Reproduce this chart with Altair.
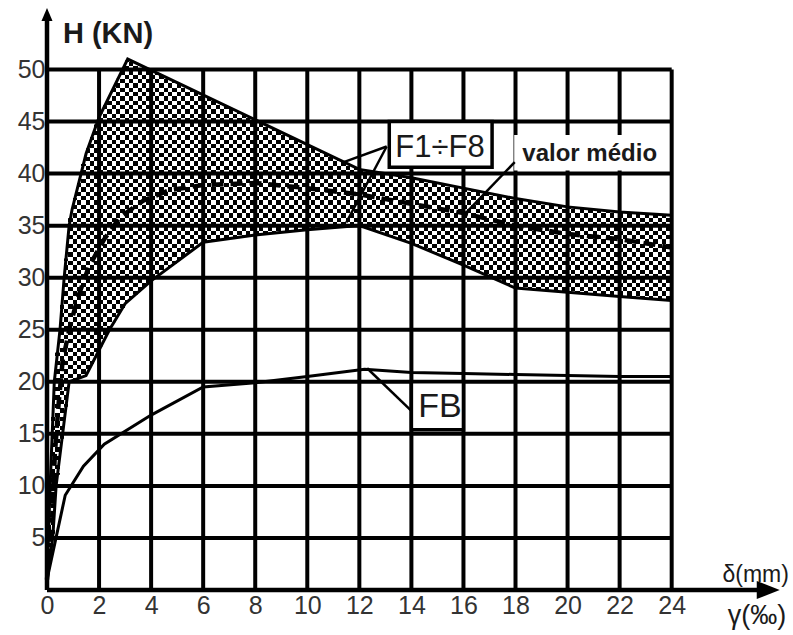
import altair as alt
import pandas as pd
import numpy as np

# ---- data ----
upper_x = [0, 0.12, 0.28, 0.5, 0.66, 0.85, 0.96, 1.5, 2.0, 3.1, 12.0, 14, 16, 18, 20, 22, 24]
upper_y = [1, 10, 20, 25, 30, 35, 36.5, 41.9, 45.4, 51.0, 40.4, 39.6, 38.6, 37.6, 36.8, 36.3, 36.0]

lower_x = [0, 0.22, 0.35, 0.6, 0.85, 1.5, 2.4, 3.0, 4.0, 6.0, 8.0, 10.0, 12.0, 14, 16, 18, 20, 22, 24]
lower_y = [1, 5, 10, 15, 20, 20.6, 25, 27.5, 29.7, 33.4, 34.1, 34.6, 35.0, 33.3, 31.2, 29.0, 28.6, 28.2, 27.8]

mean_x = [0, 0.2, 0.3, 0.45, 0.6, 0.9, 1.2, 1.6, 2.2, 2.8, 3.7, 4.7, 6, 8, 10, 12, 14, 16, 18, 20, 22, 24]
mean_y = [1, 7, 13, 18, 22, 25.5, 28.2, 31, 33.7, 35.8, 37.4, 38.4, 38.9, 39.1, 38.6, 38.0, 37.1, 36.2, 35.0, 34.2, 33.7, 32.9]

fb_x = [0, 0.7, 1.4, 2.2, 4, 6, 8, 10, 12.2, 14, 16, 18, 20, 22, 24]
fb_y = [1, 9.1, 11.9, 14.0, 16.8, 19.5, 19.9, 20.5, 21.2, 20.9, 20.8, 20.7, 20.6, 20.5, 20.5]

x_ticks = [0, 2, 4, 6, 8, 10, 12, 14, 16, 18, 20, 22, 24]
y_ticks = [5, 10, 15, 20, 25, 30, 35, 40, 45, 50]

# ---- layout ----
W, H = 734, 583
XMAX, YMAX = 28.2, 56
FONT = "Liberation Sans"
xs = alt.Scale(domain=[0, XMAX], nice=False, zero=False)
ys = alt.Scale(domain=[0, YMAX], nice=False, zero=False)

x_axis = alt.Axis(values=x_ticks, domain=False, ticks=False, grid=False, title=None,
                  labelFontSize=25, labelFont=FONT, labelColor="#333", labelPadding=3,
                  labelFlush=False, labelOverlap=False)
y_axis = alt.Axis(values=y_ticks, domain=False, ticks=False, grid=False, title=None,
                  labelFontSize=25, labelFont=FONT, labelColor="#333", labelPadding=2,
                  labelFlush=False, labelOverlap=False)

def X(f="x"):
    return alt.X(f"{f}:Q", scale=xs, axis=x_axis)

def Y(f="y"):
    return alt.Y(f"{f}:Q", scale=ys, axis=y_axis)

# ---- checkerboard texture of the F1÷F8 band (pixel-aligned cells of 4,4,5 px) ----
px_x, px_y = W / XMAX, H / YMAX
steps = [4, 4, 5]

def edges(limit_px):
    out, p, k = [0], 0, 0
    while p < limit_px:
        p += steps[k % 3]
        k += 1
        out.append(p)
    return out

ex = [e / px_x for e in edges(24 * px_x)]
ey = [e / px_y for e in edges(52 * px_y)]
rows = []
for i in range(len(ex) - 1):
    x0, x1 = ex[i], min(ex[i + 1], 24)
    if x0 >= 24:
        break
    xc = (x0 + x1) / 2
    lo = float(np.interp(xc, lower_x, lower_y))
    hi = float(np.interp(xc, upper_x, upper_y))
    for j in range(len(ey) - 1):
        if (i + j) % 2:
            continue
        y0, y1 = ey[j], ey[j + 1]
        if y1 > lo and y0 < hi:
            rows.append({"x": x0, "x2": x1, "y": max(y0, lo), "y2": min(y1, hi)})
checker = alt.Chart(pd.DataFrame(rows)).mark_rect(color="black", strokeWidth=0).encode(
    x=X(), x2="x2", y=Y(), y2="y2")

# ---- grid ----
grid_df = pd.DataFrame(
    [{"x": v, "x2": v, "y": 0, "y2": 50} for v in x_ticks[1:]] +
    [{"x": 0, "x2": 24, "y": v, "y2": v} for v in y_ticks])
grid = alt.Chart(grid_df).mark_rule(color="black", strokeWidth=4).encode(
    x=X(), x2="x2", y=Y(), y2="y2")

axes_df = pd.DataFrame([{"x": 0, "x2": 0, "y": 0, "y2": 55.0},
                        {"x": 0, "x2": 27.4, "y": 0, "y2": 0}])
axes = alt.Chart(axes_df).mark_rule(color="black", strokeWidth=4.5).encode(
    x=X(), x2="x2", y=Y(), y2="y2")

arrow_up = alt.Chart(pd.DataFrame({"x": [0], "y": [55.28]})).mark_point(
    shape="M-0.85,1L0,-1L0.85,1Z", filled=True, color="black", opacity=1, size=169
).encode(x=X(), y=Y())
arrow_right = alt.Chart(pd.DataFrame({"x": [27.71], "y": [0]})).mark_point(
    shape="M-1,-0.78L1,0L-1,0.78Z", filled=True, color="black", opacity=1, size=529
).encode(x=X(), y=Y())

# ---- curves ----
def curve(xv, yv, **kw):
    df = pd.DataFrame({"x": xv, "y": yv, "o": range(len(xv))})
    return alt.Chart(df).mark_line(**kw).encode(
        x=X(), y=Y(), order="o:Q")

upper = curve(upper_x, upper_y, color="black", strokeWidth=3)
lower = curve(lower_x, lower_y, color="black", strokeWidth=3)
mean = curve(mean_x, mean_y, color="black", strokeWidth=4.5, strokeDash=[12, 7])
fb = curve(fb_x, fb_y, color="black", strokeWidth=3)

# ---- label boxes ----
boxes = alt.Chart(pd.DataFrame([
    {"x": 13.15, "x2": 17.1, "y": 40.6, "y2": 45.0},
    {"x": 14.0, "x2": 16.0, "y": 15.4, "y2": 20.0},
])).mark_rect(fill="white", stroke="black", strokeWidth=3.5).encode(
    x=X(), x2="x2", y=Y(), y2="y2")
bg = alt.Chart(pd.DataFrame([{"x": 17.95, "x2": 23.85, "y": 40.3, "y2": 43.7}])).mark_rect(
    fill="white", strokeWidth=0).encode(x=X(), x2="x2", y=Y(), y2="y2")

pointers = alt.Chart(pd.DataFrame([
    {"x": 13.05, "y": 42.6, "x2": 11.4, "y2": 41.1},
    {"x": 13.05, "y": 42.6, "x2": 11.5, "y2": 35.3},
    {"x": 17.97, "y": 41.1, "x2": 16.05, "y2": 36.1},
    {"x": 12.3, "y": 21.3, "x2": 14.0, "y2": 17.2},
])).mark_rule(color="black", strokeWidth=2.5).encode(x=X(), x2="x2", y=Y(), y2="y2")

def label(txt, x, y, size, bold=False, align="center", font=FONT):
    return alt.Chart(pd.DataFrame({"x": [x], "y": [y], "t": [txt]})).mark_text(
        font=font, fontSize=size, fontWeight="bold" if bold else "normal",
        align=align, baseline="alphabetic", color="#1a1a1a"
    ).encode(x=X(), y=Y(), text="t:N")

texts = [
    label("H (KN)", 0.61, 52.5, 29, bold=True, align="left"),
    label("F1÷F8", 15.1, 41.6, 31),
    label("valor médio", 20.85, 41.2, 24, bold=True),
    label("FB", 15.1, 16.6, 34),
    label("δ(mm)", 25.95, 0.8, 23, align="left"),
    label("γ(‰)", 26.15, -3.3, 27, align="left"),
]

chart = alt.layer(
    checker, grid, axes, upper, lower, mean, fb, bg, boxes, pointers,
    *texts, arrow_up, arrow_right
).properties(
    width=W, height=H,
    autosize=alt.AutoSizeParams(type="none"),
    padding={"left": 47, "top": 7, "right": 12, "bottom": 45},
    background="white",
).configure_view(stroke=None)

chart.save("out.html", embed_options={"renderer": "svg", "actions": False})
